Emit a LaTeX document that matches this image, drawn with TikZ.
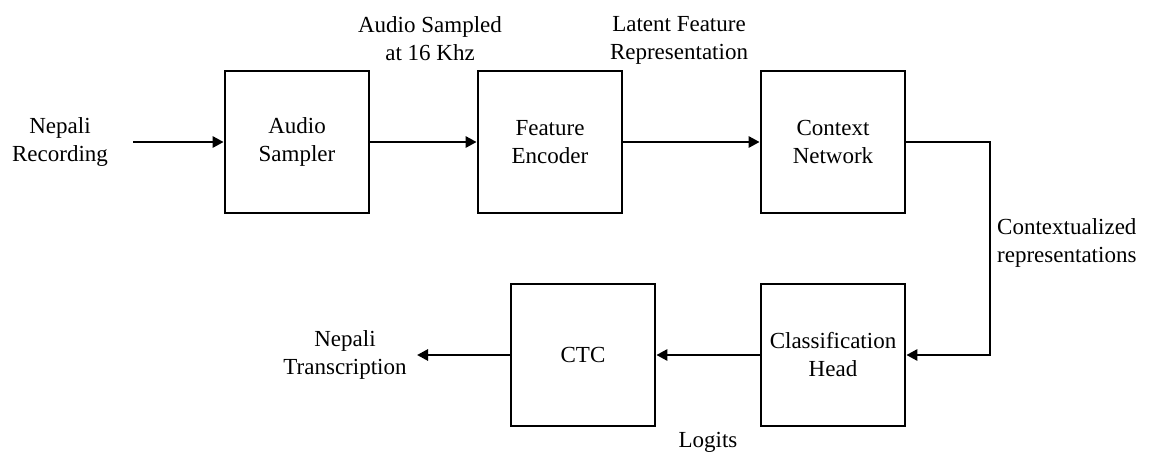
\documentclass[tikz,border=0pt]{standalone}
\usepackage{fontspec}
\setmainfont{Liberation Serif}
\usetikzlibrary{arrows.meta}

\begin{document}
\begin{tikzpicture}[x=1pt,y=-1pt,
  every node/.style={font=\fontsize{23}{28}\selectfont, inner sep=0pt},
  block/.style={draw, line width=2.7pt, minimum width=144pt, minimum height=142pt, align=center},
  lbl/.style={align=center},
  flow/.style={line width=2.7pt, -{Triangle[length=11pt,width=11pt]}}]

  % canvas
  \useasboundingbox (0,0) rectangle (1152,453);

  % processing blocks
  \node[block] (sampler)   at (297,142) {Audio\\Sampler};
  \node[block] (encoder)   at (550,142) {Feature\\Encoder};
  \node[block] (context)   at (833,142) {Context\\Network};
  \node[block] (classhead) at (833,355) {Classification\\Head};
  \node[block] (ctc)       at (583,355) {CTC};

  % free ends and bend of the connectors
  \coordinate (inStart) at (133,142);
  \coordinate (outEnd)  at (417,355);
  \coordinate (turn)    at (990,142);

  % labels
  \node[lbl] (inLbl)   at (60,142)  {Nepali\\Recording};
  \node[lbl] (sampLbl) at (430,39)  {Audio Sampled\\at 16 Khz};
  \node[lbl] (featLbl) at (679,40)  {Latent Feature\\Representation};
  \node[lbl, anchor=west] (ctxLbl) at (997,243) {Contextualized\\representations};
  \node[lbl] (logLbl)  at (708,442) {Logits};
  \node[lbl] (outLbl)  at (345,355) {Nepali\\Transcription};

  % connectors
  \draw[flow] (inStart) -- (sampler.west);
  \draw[flow] (sampler.east) -- (encoder.west);
  \draw[flow] (encoder.east) -- (context.west);
  \draw[flow] (context.east) -- (turn) |- (classhead.east);
  \draw[flow] (classhead.west) -- (ctc.east);
  \draw[flow] (ctc.west) -- (outEnd);
\end{tikzpicture}
\end{document}
